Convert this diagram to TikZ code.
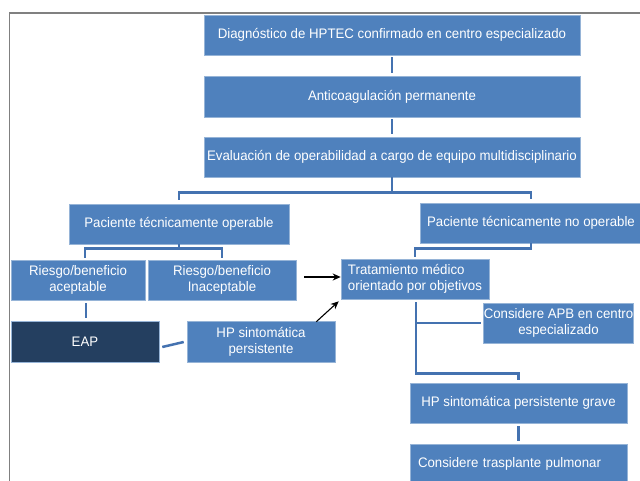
\documentclass[tikz,border=0pt]{standalone}
\usepackage{fontspec}
\setmainfont[FakeStretch=0.96]{Liberation Sans}
\usetikzlibrary{arrows.meta}
\definecolor{boxblue}{RGB}{79,129,189}
\definecolor{boxedge}{RGB}{150,180,215}
\definecolor{navybox}{RGB}{36,63,96}
\definecolor{connblue}{RGB}{68,114,176}
\definecolor{framegray}{RGB}{128,128,128}
\begin{document}
\begin{tikzpicture}[x=1pt,y=-1pt,
  box/.style={draw=boxedge, line width=0.6pt, fill=boxblue, text=white,
    font=\fontsize{13.8}{16}\selectfont, inner sep=0pt, align=center},
  conn/.style={draw=connblue, line width=2.5pt},
  arr/.style={draw=black, line width=1.1pt, -{Stealth[length=8pt,width=7pt]}}]
\useasboundingbox (0,0) rectangle (640,481);
\draw[framegray, line width=1.2pt] (9.5,490) -- (9.5,13) -- (650,13);

\node[box, minimum width=376pt, minimum height=40pt] (d1) at (392,35) {Diagnóstico de HPTEC confirmado en centro especializado};
\node[box, minimum width=376pt, minimum height=41pt] (d2) at (392,96.5) {Anticoagulación permanente};
\node[box, minimum width=376pt, minimum height=40pt] (d3) at (392,157) {Evaluación de operabilidad a cargo de equipo multidisciplinario};
\node[box, minimum width=220pt, minimum height=40pt] (p1) at (179,224) {Paciente técnicamente operable};
\node[box, minimum width=222pt, minimum height=40pt] (p2) at (531,223) {Paciente técnicamente no operable};
\node[box, minimum width=134pt, minimum height=40pt] (r1) at (78,280) {Riesgo/beneficio\\aceptable};
\node[box, minimum width=148pt, minimum height=40pt] (r2) at (222,280) {Riesgo/beneficio\\Inaceptable};
\node[box, minimum width=148pt, minimum height=40pt, align=left] (tm) at (415,279) {Tratamiento médico\\orientado por objetivos};
\node[box, fill=navybox, minimum width=148pt, minimum height=41pt] (eap) at (85,341.5) {EAP};
\node[box, minimum width=148pt, minimum height=41pt] (hp) at (261,341.5) {HP sintomática\\persistente};
\node[box, minimum width=149pt, minimum height=40pt] (apb) at (558.5,323) {Considere APB en centro\\especializado};
\node[box, minimum width=217pt, minimum height=40pt] (grave) at (518.5,403) {HP sintomática persistente grave};
\node[box, minimum width=217pt, minimum height=40pt, text width=201pt, align=left] (tx) at (518.5,464) {Considere trasplante pulmonar};

\draw[conn, shorten <=2pt, shorten >=3pt] (d1) -- (d2);
\draw[conn, shorten <=2pt, shorten >=3pt] (d2) -- (d3);
\draw[conn] (d3.south) -- ++(0,15) -| ([yshift=4pt]p1.north);
\draw[conn] (d3.south) ++(0,15) -| ([yshift=4pt]p2.north);
\draw[conn] (p1.south) -- ++(0,4) -| ([xshift=7pt,yshift=2pt]r1.north);
\draw[conn] (p1.south) ++(0,4) -| ([yshift=2pt]r2.north);
\draw[conn] (p2.south) -- ++(0,5) -| ([yshift=2pt]tm.north);
\draw[conn, shorten <=3pt, shorten >=3pt] ([xshift=8pt]r1.south) -- ([xshift=1pt]eap.north);
\draw[conn] ([xshift=3pt,yshift=-5.5pt]eap.east) -- ([xshift=-3pt,yshift=-0.5pt]hp.west);
\draw[arr] ([xshift=8pt,yshift=3pt]r2.east) -- ([yshift=2pt]tm.west);
\draw[arr] ([xshift=-19pt,yshift=-1pt]hp.north east) -- ([xshift=-2pt,yshift=-2pt]tm.south west);
\draw[conn] ([xshift=1pt,yshift=-3pt]tm.south) -- ++(0,71) -| ([yshift=3pt]grave.north);
\draw[conn] ([xshift=1pt]tm.south |- apb.west) -- ([xshift=-2pt]apb.west);
\draw[conn, shorten <=3pt, shorten >=3pt] (grave) -- (tx);
\end{tikzpicture}
\end{document}
